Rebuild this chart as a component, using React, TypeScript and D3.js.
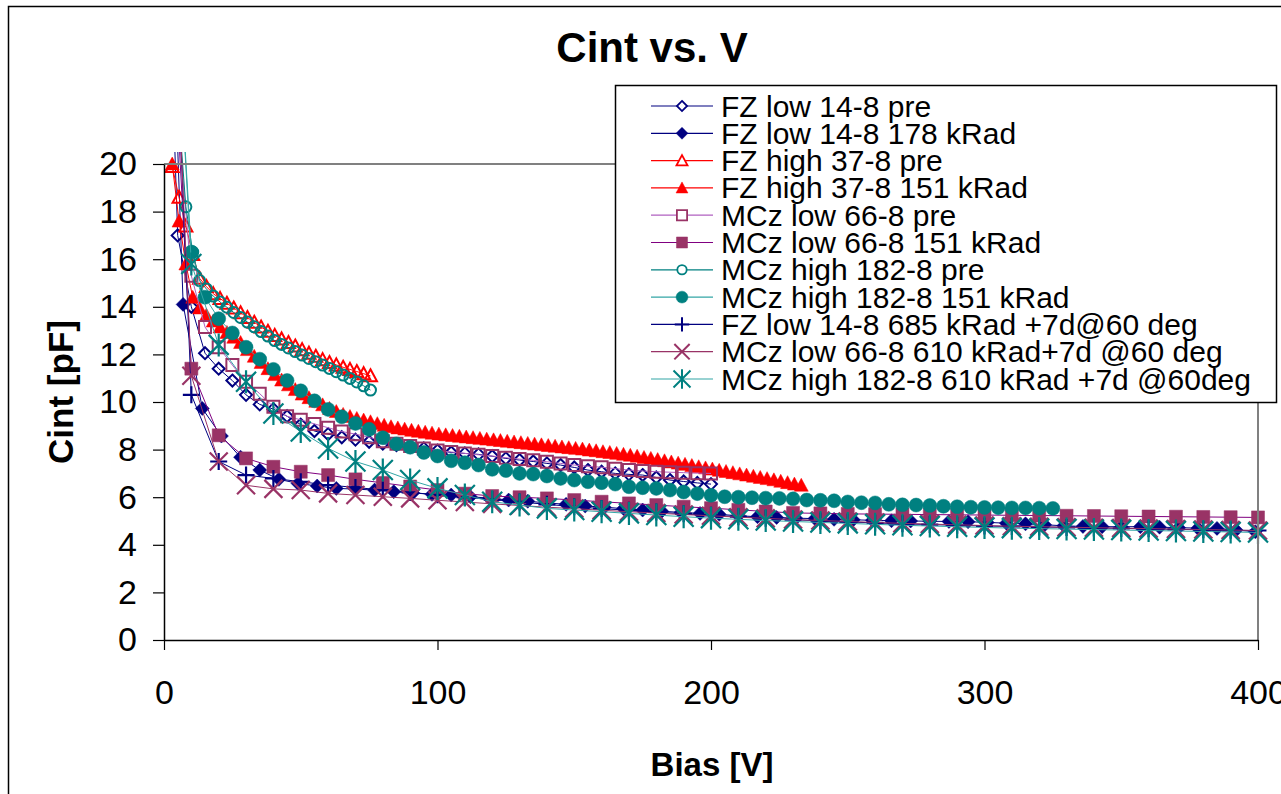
import React, { useEffect, useRef } from 'react';
import * as d3 from 'd3';

// ---- data (Bias in V, Cint in pF) ----
const seriesNames = [
  'FZ low 14-8 pre',
  'FZ low 14-8 178 kRad',
  'FZ high 37-8 pre',
  'FZ high 37-8 151 kRad',
  'MCz low 66-8 pre',
  'MCz low 66-8 151 kRad',
  'MCz high 182-8 pre',
  'MCz high 182-8 151 kRad',
  'FZ low 14-8 685 kRad +7d@60 deg',
  'MCz low 66-8 610 kRad+7d @60 deg',
  'MCz high 182-8 610 kRad +7d @60deg',
];

const yTicks = [0, 2, 4, 6, 8, 10, 12, 14, 16, 18, 20];
const xTicks = [0, 100, 200, 300, 400];

// FZ low 14-8 pre
const vFzLowPre = [3, 5, 10, 15, 20, 25, 30, 35, 40, 45, 50, 55, 60, 65, 70, 75, 80, 85, 90, 95, 100,
  105, 110, 115, 120, 125, 130, 135, 140, 145, 150, 155, 160, 165, 170, 175, 180, 185, 190, 195, 200];
const cFzLowPre = [24, 17.0, 14.0, 12.05, 11.4, 10.9, 10.3, 9.9, 9.7, 9.4, 9.05, 8.78, 8.65, 8.52, 8.42, 8.33,
  8.25, 8.19, 8.12, 8.05, 7.96, 7.88, 7.84, 7.8, 7.72, 7.63, 7.56, 7.5, 7.42, 7.35, 7.25, 7.14, 7.07, 7.0,
  6.96, 6.93, 6.83, 6.72, 6.66, 6.6, 6.55];

// FZ low 14-8 178 kRad
const vFzLow178 = [4, 7, 14, 21, 28, 35, 42, 49, 56, 63, 70, 77, 84, 91, 98, 105, 112, 119, 126, 133, 140,
  147, 154, 161, 168, 175, 182, 189, 196, 203, 210, 217, 224, 231, 238, 245, 252, 259, 266, 273, 280, 287,
  294, 301, 308, 315, 322, 329, 336, 343, 350, 357, 364, 371, 378, 385, 392, 399];
const cFzLow178 = [24, 14.1, 9.73, 8.57, 7.68, 7.14, 6.75, 6.58, 6.47, 6.37, 6.34, 6.3, 6.23, 6.18, 6.12, 6.09,
  6.02, 5.96, 5.88, 5.83, 5.76, 5.7, 5.63, 5.58, 5.52, 5.46, 5.41, 5.36, 5.32, 5.28, 5.22, 5.18, 5.15, 5.12,
  5.1, 5.07, 5.05, 5.03, 5.01, 5.0, 4.99, 4.98, 4.97, 4.94, 4.91, 4.88, 4.84, 4.8, 4.77, 4.76, 4.76, 4.76,
  4.74, 4.72, 4.7, 4.69, 4.62, 4.55];

// FZ high 37-8 (fine 2.5 V steps)
const vFzHigh = [3, 5.5, 8, 10.5, 13, 15.5, 18, 20.5, 23, 25.5, 28, 30.5, 33, 35.5, 38, 40.5, 43, 45.5, 48,
  50.5, 53, 55.5, 58, 60.5, 63, 65.5, 68, 70.5, 73, 75.5, 78, 80.5, 83, 85.5, 88, 90.5, 93, 95.5, 98, 100.5,
  103, 105.5, 108, 110.5, 113, 115.5, 118, 120.5, 123, 125.5, 128, 130.5, 133, 135.5, 138, 140.5, 143, 145.5,
  148, 150.5, 153, 155.5, 158, 160.5, 163, 165.5, 168, 170.5, 173, 175.5, 178, 180.5, 183, 185.5, 188, 190.5,
  193, 195.5, 198, 200.5, 203, 205.5, 208, 210.5, 213, 215.5, 218, 220.5, 223, 225.5, 228, 230.5, 233];
const cFzHighPre = [19.9, 18.6, 17.4, 16.2, 15.2, 14.85, 14.55, 14.35, 14.15, 13.95, 13.75, 13.55, 13.35,
  13.15, 12.97, 12.8, 12.65, 12.5, 12.35, 12.2, 12.05, 11.92, 11.78, 11.66, 11.56, 11.46, 11.37, 11.28,
  11.19, 11.1];
const cFzHigh151 = [20.0, 17.6, 15.8, 14.4, 13.95, 13.65, 13.4, 13.15, 12.92, 12.72, 12.5, 12.2, 11.92,
  11.66, 11.4, 11.15, 10.92, 10.72, 10.52, 10.33, 10.18, 10.03, 9.88, 9.73, 9.6, 9.48, 9.39, 9.31, 9.24,
  9.17, 9.09, 9.02, 8.96, 8.91, 8.86, 8.81, 8.77, 8.73, 8.69, 8.65, 8.62, 8.59, 8.56, 8.53, 8.5, 8.47, 8.44,
  8.41, 8.38, 8.35, 8.32, 8.29, 8.26, 8.23, 8.2, 8.17, 8.14, 8.11, 8.08, 8.05, 8.02, 7.98, 7.95, 7.91, 7.88,
  7.84, 7.8, 7.76, 7.72, 7.67, 7.63, 7.58, 7.53, 7.48, 7.43, 7.38, 7.33, 7.28, 7.23, 7.18, 7.13, 7.08, 7.03,
  6.98, 6.93, 6.88, 6.83, 6.78, 6.73, 6.67, 6.61, 6.55, 6.5];

// MCz low 66-8 pre
const vMczLowPre = [5, 10, 15, 20, 25, 30, 35, 40, 45, 50, 55, 60, 65, 70, 75, 80, 85, 90, 95, 100, 105, 110,
  115, 120, 125, 130, 135, 140, 145, 150, 155, 160, 165, 170, 175, 180, 185, 190, 195, 200];
const cMczLowPre = [22, 15.3, 13.15, 12.3, 11.55, 10.85, 10.35, 9.8, 9.4, 9.25, 9.08, 8.92, 8.76, 8.65, 8.52,
  8.35, 8.25, 8.15, 8.05, 7.96, 7.9, 7.84, 7.78, 7.73, 7.66, 7.6, 7.55, 7.49, 7.42, 7.35, 7.3, 7.26, 7.2,
  7.14, 7.1, 7.07, 7.05, 7.03, 7.01, 7.0];

// 10 V step series (MCz low 151 kRad and the annealed ones)
const v10 = [5, 10, 20, 30, 40, 50, 60, 70, 80, 90, 100, 110, 120, 130, 140, 150, 160, 170, 180, 190, 200,
  210, 220, 230, 240, 250, 260, 270, 280, 290, 300, 310, 320, 330, 340, 350, 360, 370, 380, 390, 400];
const cMczLow151 = [22, 11.4, 8.6, 7.63, 7.28, 7.07, 6.93, 6.75, 6.6, 6.45, 6.3, 6.15, 6.05, 6.0, 5.95, 5.88,
  5.81, 5.74, 5.67, 5.6, 5.54, 5.47, 5.4, 5.34, 5.32, 5.3, 5.29, 5.28, 5.27, 5.26, 5.25, 5.24, 5.23, 5.22,
  5.21, 5.2, 5.19, 5.18, 5.17, 5.16, 5.15];
const cFzLow685 = [24, 10.3, 7.5, 6.93, 6.79, 6.65, 6.51, 6.41, 6.3, 6.2, 6.1, 6.0, 5.9, 5.8, 5.7, 5.6, 5.52,
  5.45, 5.38, 5.3, 5.24, 5.18, 5.12, 5.06, 5.0, 4.96, 4.92, 4.88, 4.85, 4.82, 4.79, 4.77, 4.75, 4.73, 4.71,
  4.69, 4.67, 4.65, 4.63, 4.61, 4.6];
const cMczLow610 = [24, 11.1, 7.5, 6.5, 6.35, 6.3, 6.16, 6.09, 6.02, 5.95, 5.87, 5.8, 5.72, 5.65, 5.58, 5.52,
  5.45, 5.39, 5.33, 5.27, 5.22, 5.16, 5.11, 5.06, 5.02, 4.98, 4.94, 4.9, 4.87, 4.84, 4.81, 4.78, 4.76, 4.74,
  4.72, 4.7, 4.68, 4.66, 4.64, 4.62, 4.6];
const cMczHigh610 = [26, 15.8, 12.4, 10.85, 9.52, 8.76, 8.05, 7.5, 7.14, 6.72, 6.37, 6.09, 5.81, 5.67, 5.53,
  5.46, 5.39, 5.32, 5.25, 5.18, 5.12, 5.07, 5.02, 4.98, 4.94, 4.9, 4.86, 4.82, 4.79, 4.76, 4.73, 4.7, 4.68,
  4.66, 4.64, 4.62, 4.6, 4.58, 4.56, 4.54, 4.52];

// MCz high 182-8 pre
const vMczHighPre = [5.5, 8, 10.5, 13, 15.5, 18, 20.5, 23, 25.5, 28, 30.5, 33, 35.5, 38, 40.5, 43, 45.5, 48,
  50.5, 53, 55.5, 58, 60.5, 63, 65.5, 68, 70.5, 73, 75.5];
const cMczHighPre = [22, 18.2, 16.3, 15.1, 14.75, 14.45, 14.2, 13.98, 13.76, 13.55, 13.36, 13.16, 12.96,
  12.77, 12.58, 12.42, 12.27, 12.12, 11.97, 11.83, 11.69, 11.55, 11.41, 11.27, 11.13, 10.99, 10.84, 10.68, 10.5];

// MCz high 182-8 151 kRad
const vMczHigh151 = [7, 10, 15, 20, 25, 30, 35, 40, 45, 50, 55, 60, 65, 70, 75, 80, 85, 90, 95, 100, 105, 110,
  115, 120, 125, 130, 135, 140, 145, 150, 155, 160, 165, 170, 175, 180, 185, 190, 195, 200, 205, 210, 215,
  220, 225, 230, 235, 240, 245, 250, 255, 260, 265, 270, 275, 280, 285, 290, 295, 300, 305, 310, 315, 320, 325];
const cMczHigh151 = [22, 16.3, 14.4, 13.5, 12.9, 12.3, 11.8, 11.37, 10.9, 10.47, 10.05, 9.69, 9.38, 9.1, 8.85,
  8.5, 8.24, 8.1, 7.88, 7.73, 7.53, 7.45, 7.35, 7.17, 7.12, 7.0, 6.97, 6.89, 6.79, 6.72, 6.65, 6.61, 6.55,
  6.44, 6.4, 6.37, 6.3, 6.22, 6.15, 6.08, 6.02, 6.0, 5.98, 5.96, 5.95, 5.93, 5.88, 5.87, 5.85, 5.8, 5.77,
  5.76, 5.7, 5.68, 5.67, 5.65, 5.62, 5.6, 5.58, 5.57, 5.56, 5.55, 5.55, 5.54, 5.53];

type Shape = 'diamond' | 'triangle' | 'square' | 'circle' | 'plus' | 'cross' | 'star';

const series = [
  { v: vFzLowPre, c: cFzLowPre, shape: 'diamond', filled: false, mark: '#000080', line: '#000080', size: 6 },
  { v: vFzLow178, c: cFzLow178, shape: 'diamond', filled: true, mark: '#000080', line: '#000080', size: 7 },
  { v: vFzHigh.slice(0, 30), c: cFzHighPre, shape: 'triangle', filled: false, mark: '#ff0000', line: '#ff0000', size: 6.5 },
  { v: vFzHigh, c: cFzHigh151, shape: 'triangle', filled: true, mark: '#ff0000', line: '#ff0000', size: 7 },
  { v: vMczLowPre, c: cMczLowPre, shape: 'square', filled: false, mark: '#993366', line: '#b060c0', size: 6 },
  { v: v10, c: cMczLow151, shape: 'square', filled: true, mark: '#993366', line: '#800080', size: 6.5 },
  { v: vMczHighPre, c: cMczHighPre, shape: 'circle', filled: false, mark: '#008080', line: '#008080', size: 5.5 },
  { v: vMczHigh151, c: cMczHigh151, shape: 'circle', filled: true, mark: '#008080', line: '#33a6a6', size: 7 },
  { v: v10, c: cFzLow685, shape: 'plus', filled: false, mark: '#000080', line: '#000080', size: 8.5 },
  { v: v10, c: cMczLow610, shape: 'cross', filled: false, mark: '#993366', line: '#993366', size: 9 },
  { v: v10, c: cMczHigh610, shape: 'star', filled: false, mark: '#008080', line: '#33a6a6', size: 10 },
];

function markerPath(shape: Shape, s: number) {
  switch (shape) {
    case 'diamond':
      return `M0,${-s}L${s},0L0,${s}L${-s},0Z`;
    case 'triangle':
      return `M0,${-s}L${s},${s * 0.85}L${-s},${s * 0.85}Z`;
    case 'square':
      return `M${-s},${-s}H${s}V${s}H${-s}Z`;
    case 'circle': {
      const p = d3.path();
      p.arc(0, 0, s, 0, Math.PI * 2);
      p.closePath();
      return p.toString();
    }
    case 'plus':
      return `M${-s},0H${s}M0,${-s}V${s}`;
    case 'cross':
      return `M${-s},${-s}L${s},${s}M${s},${-s}L${-s},${s}`;
    default:
      return `M${-s},${-s}L${s},${s}M${s},${-s}L${-s},${s}M0,${-s * 1.15}V${s * 1.15}`;
  }
}

const FONT = '"Liberation Sans", Arial, Helvetica, sans-serif';

function App() {
  const ref = useRef<SVGSVGElement>(null);

  useEffect(() => {
    const svg = d3.select(ref.current);
    svg.selectAll('*').remove();

    const left = 164, right = 1258, top = 164, bottom = 640;
    const x = d3.scaleLinear().domain([0, 400]).range([left, right]);
    const y = d3.scaleLinear().domain([0, 20]).range([bottom, top]);

    svg.append('rect').attr('width', 1281).attr('height', 794).attr('fill', '#fff');
    // chart area frame
    svg.append('rect')
      .attr('x', 8.5).attr('y', 6.5).attr('width', 1400).attr('height', 900)
      .attr('fill', 'none').attr('stroke', '#000').attr('stroke-width', 1.5);

    // title
    svg.append('text')
      .attr('x', 652).attr('y', 62).attr('text-anchor', 'middle')
      .style('font-family', FONT).style('font-size', '42px').style('font-weight', 'bold')
      .text('Cint vs. V');

    svg.append('defs').append('clipPath').attr('id', 'plotclip')
      .append('rect').attr('x', 140).attr('y', 152).attr('width', 1135).attr('height', 520);

    const plot = svg.append('g').attr('clip-path', 'url(#plotclip)');

    series.forEach(s => {
      const pts = s.v.map((v, i) => [v, s.c[i]] as [number, number]);
      const line = d3.line<[number, number]>().x(d => x(d[0])).y(d => y(d[1]));
      plot.append('path')
        .attr('d', line(pts))
        .attr('fill', 'none')
        .attr('stroke', s.line)
        .attr('stroke-width', 1);

      const open = !s.filled && ['diamond', 'triangle', 'square', 'circle'].includes(s.shape);
      const lineShape = ['plus', 'cross', 'star'].includes(s.shape);
      plot.append('g').selectAll('path')
        .data(pts)
        .enter()
        .append('path')
        .attr('transform', d => `translate(${x(d[0])},${y(d[1])})`)
        .attr('d', markerPath(s.shape as Shape, s.size))
        .attr('fill', s.filled ? s.mark : 'none')
        .attr('stroke', s.mark)
        .attr('stroke-width', lineShape ? 2.2 : open ? 2 : 0.5);
    });

    // plot area border (top / right)
    svg.append('path')
      .attr('d', `M${left},${top}H${right}V${bottom}`)
      .attr('fill', 'none').attr('stroke', '#808080').attr('stroke-width', 2);

    // axes
    const yAxis = d3.axisLeft(y).tickValues(yTicks).tickSize(11).tickSizeOuter(0).tickPadding(16)
      .tickFormat(d3.format('d'));
    const gy = svg.append('g').attr('transform', `translate(${left},0)`).call(yAxis);
    const xAxis = d3.axisBottom(x).tickValues(xTicks).tickSize(10).tickSizeOuter(0).tickPadding(30)
      .tickFormat(d3.format('d'));
    const gx = svg.append('g').attr('transform', `translate(0,${bottom})`).call(xAxis);

    [gy, gx].forEach(g => {
      g.select('.domain').attr('stroke', '#000').attr('stroke-width', 1.5);
      g.selectAll('.tick line').attr('stroke', '#000').attr('stroke-width', 1.2);
      g.selectAll('.tick text')
        .attr('fill', '#000')
        .style('font-family', FONT)
        .style('font-size', '34px');
    });

    // axis titles
    svg.append('text')
      .attr('transform', 'translate(73,392) rotate(-90)')
      .attr('text-anchor', 'middle')
      .style('font-family', FONT).style('font-size', '35px').style('font-weight', 'bold')
      .text('Cint [pF]');
    svg.append('text')
      .attr('x', 712).attr('y', 776).attr('text-anchor', 'middle')
      .style('font-family', FONT).style('font-size', '33px').style('font-weight', 'bold')
      .text('Bias [V]');

    // legend
    const legend = svg.append('g');
    legend.append('rect')
      .attr('x', 615.5).attr('y', 85.5).attr('width', 661).attr('height', 317)
      .attr('fill', '#fff').attr('stroke', '#000').attr('stroke-width', 1.5);

    const rowY = (i: number) => 106 + i * 27.3;
    series.forEach((s, i) => {
      const ly = rowY(i);
      legend.append('line')
        .attr('x1', 651).attr('x2', 713).attr('y1', ly).attr('y2', ly)
        .attr('stroke', s.line).attr('stroke-width', 1.2);
      const open = !s.filled && ['diamond', 'triangle', 'square', 'circle'].includes(s.shape);
      const lineShape = ['plus', 'cross', 'star'].includes(s.shape);
      legend.append('path')
        .attr('transform', `translate(682,${ly})`)
        .attr('d', markerPath(s.shape as Shape, s.size * 0.85))
        .attr('fill', s.filled ? s.mark : '#fff')
        .attr('stroke', s.mark)
        .attr('stroke-width', lineShape ? 2 : open ? 1.8 : 0.5);
      legend.append('text')
        .attr('x', 721).attr('y', ly + 10.5)
        .style('font-family', FONT).style('font-size', '30px')
        .text(seriesNames[i]);
    });
  }, []);

  return (
    <svg ref={ref} width={1281} height={794}
      style={{ position: 'absolute', left: 0, top: 0, display: 'block' }} />
  );
}

export default App;
